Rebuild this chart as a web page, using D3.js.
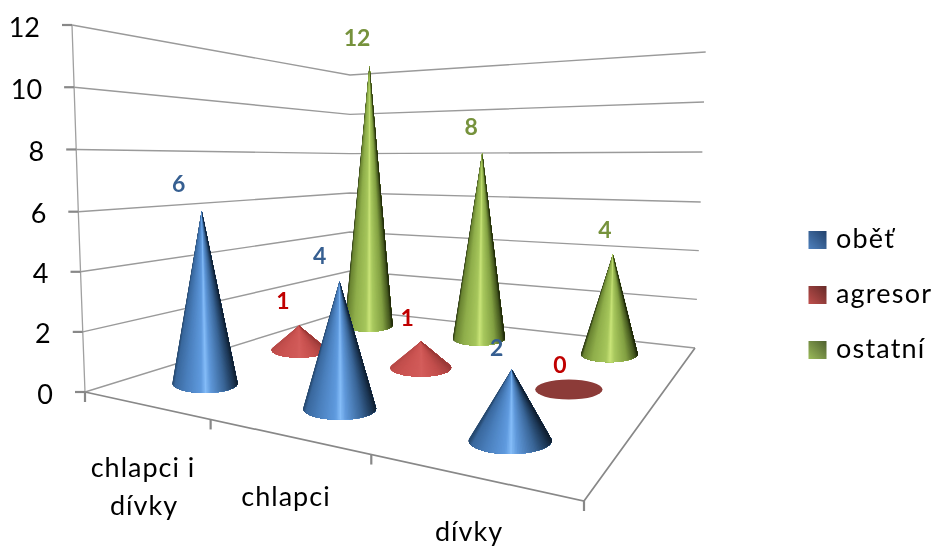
<!DOCTYPE html>
<html>
<head>
    <meta charset="utf-8">
    <script src="https://cdn.jsdelivr.net/npm/d3@7"></script>
    <title></title>
    <style>
        body { margin: 0; background: #fff; }
        text { font-family: Lato, "Open Sans", sans-serif; }
        svg { filter: blur(0.4px); }
    </style>
</head>
<body>
    <div id="chart"></div>
    <script>
        // data
        var categories = ['chlapci i dívky', 'chlapci', 'dívky'];
        var seriesNames = ['oběť', 'agresor', 'ostatní'];
        var obet = [6, 4, 2];
        var agresor = [1, 1, 0];
        var ostatni = [12, 8, 4];
        var yTicks = [0, 2, 4, 6, 8, 10, 12];
        var allSeries = [obet, agresor, ostatni];

        var width = 936;
        var height = 548;
        var yMax = 12;

        // the box of the 3d chart as it sits on screen
        var floorFrontLeft = [85, 392];
        var floorFrontRight = [584, 501];
        var floorBackRight = [695, 348];
        var floorBackLeft = [350, 310];
        var topLeft = [72, 25];
        var topCorner = [350, 75];
        var topRight = [705.7, 52];
        var midLeft = [78.3, 211.7];
        var midCorner = [350, 193];
        var midRight = [700.7, 202];

        // unit square of the floor -> screen
        var H = (function() {
            var p0 = floorFrontLeft, p1 = floorFrontRight, p2 = floorBackRight, p3 = floorBackLeft;
            var dx1 = p1[0] - p2[0], dx2 = p3[0] - p2[0], sx = p0[0] - p1[0] + p2[0] - p3[0];
            var dy1 = p1[1] - p2[1], dy2 = p3[1] - p2[1], sy = p0[1] - p1[1] + p2[1] - p3[1];
            var det = dx1 * dy2 - dx2 * dy1;
            var g = (sx * dy2 - dx2 * sy) / det;
            var h = (dx1 * sy - sx * dy1) / det;
            return {
                a: p1[0] - p0[0] + g * p1[0], b: p3[0] - p0[0] + h * p3[0], c: p0[0],
                d: p1[1] - p0[1] + g * p1[1], e: p3[1] - p0[1] + h * p3[1], f: p0[1],
                g: g, h: h
            };
        })();

        // homogeneous direction of the value axis, from the two left-hand top corners
        var w1 = 1 + H.h;
        var y1 = H.e + H.f;
        var vz3 = (y1 - H.f + topLeft[1] - topCorner[1] * w1) / (topCorner[1] - topLeft[1]);
        var vz2 = topLeft[1] * (1 + vz3) - H.f;
        var vz1 = topLeft[0] * (1 + vz3) - H.c;

        function project(u, v, value) {
            var t = value / yMax;
            var w = H.g * u + H.h * v + 1 + vz3 * t;
            return [
                (H.a * u + H.b * v + H.c + vz1 * t) / w,
                (H.d * u + H.e * v + H.f + vz2 * t) / w
            ];
        }

        function edgeScales(bottom, mid, top) {
            var domain = [0, yMax / 2, yMax];
            return {
                x: d3.scaleLinear().domain(domain).range([bottom[0], mid[0], top[0]]),
                y: d3.scaleLinear().domain(domain).range([bottom[1], mid[1], top[1]])
            };
        }
        var leftEdge = edgeScales(floorFrontLeft, midLeft, topLeft);
        var cornerEdge = edgeScales(floorBackLeft, midCorner, topCorner);
        var rightEdge = edgeScales(floorBackRight, midRight, topRight);

        var uScale = d3.scaleBand().domain(d3.range(categories.length)).range([0, 1]);
        var vScale = d3.scaleBand().domain(d3.range(seriesNames.length)).range([0, 1]);

        // shading across each cone, -1 left edge, 1 right edge
        var shadeDomain = [-1, -0.93, -0.6, -0.12, 0.02, 0.18, 0.6, 0.9, 1];
        var shades = [
            ['#27496f', '#3a689d', '#4a7fbc', '#5f9ade', '#84bcf8', '#5f98da', '#3a6698', '#1c3654', '#122234'],
            ['#b84a48', '#c24e4c', '#cb5452', '#d05a58', '#d45e5c', '#cf5856', '#c24e4c', '#ac4442', '#9c3c3a'],
            ['#2e3b14', '#6a8432', '#8fae4b', '#a6c65c', '#c9e478', '#a8c85e', '#83a143', '#46591f', '#1f280b']
        ];
        var flatColor = '#8c3b38';
        var labelColors = ['#365f91', '#c00000', '#76923c'];
        var legendFrom = ['#4f81bd', '#c0504d', '#9bbb59'];
        var legendTo = ['#22426c', '#662a28', '#4f6030'];

        // label offset from the tip of each cone, series by category
        var labelDx = [[-23, -20, -15], [-16, -14, -9], [-12.5, -11, -8]];
        var labelDy = [[-19, -17.5, -13.5], [-17, -15, -16.5], [-19.5, -18, -16.5]];

        var radiusShare = 0.092;

        var svg = d3.select('#chart').append('svg')
            .attr('width', width)
            .attr('height', height)
            .style('display', 'block');

        var defs = svg.append('defs');
        seriesNames.forEach(function(name, i) {
            var grad = defs.append('linearGradient')
                .attr('id', 'swatch' + i)
                .attr('x1', 0).attr('y1', 1).attr('x2', 1).attr('y2', 0);
            grad.append('stop').attr('offset', '0%').attr('stop-color', legendFrom[i]);
            grad.append('stop').attr('offset', '100%').attr('stop-color', legendTo[i]);
        });

        // walls
        var wall = svg.append('g').attr('fill', 'none');
        var gridLine = d3.line();
        yTicks.forEach(function(d) {
            wall.append('path')
                .attr('d', gridLine([
                    [leftEdge.x(d), leftEdge.y(d)],
                    [cornerEdge.x(d), cornerEdge.y(d)],
                    [rightEdge.x(d), rightEdge.y(d)]
                ]))
                .attr('stroke', '#9a9a9a')
                .attr('stroke-width', 1.4);
        });

        // axis lines and ticks
        var axis = svg.append('g').attr('fill', 'none').attr('stroke', '#888');
        axis.append('path')
            .attr('d', gridLine([topLeft, midLeft, floorFrontLeft]))
            .attr('stroke', '#a0a0a0')
            .attr('stroke-width', 1.3);
        axis.append('path')
            .attr('d', gridLine([floorFrontLeft, floorFrontRight, floorBackRight]))
            .attr('stroke-width', 1.7);
        yTicks.forEach(function(d) {
            var x = leftEdge.x(d);
            var y = leftEdge.y(d);
            axis.append('line')
                .attr('x1', x - 10).attr('x2', x)
                .attr('y1', y).attr('y2', y)
                .attr('stroke-width', 2.2);
            svg.append('text')
                .attr('x', x - 32)
                .attr('y', y + 11.5)
                .attr('text-anchor', 'end')
                .attr('font-size', 27)
                .attr('fill', '#000')
                .text(d);
        });
        d3.range(categories.length + 1).forEach(function(i) {
            var p = project(i / categories.length, 0, 0);
            axis.append('line')
                .attr('x1', p[0]).attr('x2', p[0])
                .attr('y1', p[1]).attr('y2', p[1] + 10)
                .attr('stroke-width', 2.2);
        });

        // cones, back row first
        var cones = svg.append('g');
        var labels = svg.append('g')
            .attr('font-size', 23)
            .attr('font-weight', 'bold')
            .attr('text-anchor', 'middle');

        d3.range(seriesNames.length).reverse().forEach(function(s) {
            var color = d3.scaleLinear().domain(shadeDomain).range(shades[s]);
            allSeries[s].forEach(function(value, c) {
                var u = uScale(c) + uScale.bandwidth() / 2;
                var v = vScale(s) + vScale.bandwidth() / 2;
                var base = project(u, v, 0);
                var tip = project(u, v, value);
                var full = base[1] - project(u, v, yMax)[1];
                var rx = radiusShare * full;
                var ry = rx * (0.2 + 0.00027 * full);

                if (value === 0) {
                    cones.append('ellipse')
                        .attr('cx', base[0]).attr('cy', base[1])
                        .attr('rx', rx).attr('ry', ry)
                        .attr('fill', flatColor);
                } else {
                    var rise = base[1] - tip[1];
                    var start = Math.asin(Math.min(0.9, ry / rise));
                    var steps = 80;
                    var angle = d3.scaleLinear().domain([0, steps]).range([Math.PI + start, -start]);
                    var rim = d3.range(steps + 1).map(function(k) {
                        return [base[0] + rx * Math.cos(angle(k)), base[1] + ry * Math.sin(angle(k))];
                    });
                    // each wedge runs to the far edge and is painted over by the next, so no seams
                    d3.range(steps).forEach(function(k) {
                        cones.append('path')
                            .attr('d', gridLine([tip].concat(rim.slice(k))) + 'Z')
                            .attr('fill', color(Math.cos(angle(k + 0.5))));
                    });
                }

                labels.append('text')
                    .attr('x', tip[0] + labelDx[s][c])
                    .attr('y', tip[1] + labelDy[s][c])
                    .attr('fill', labelColors[s])
                    .text(value);
            });
        });

        // category labels
        var catText = svg.append('g')
            .attr('font-size', 27)
            .attr('letter-spacing', 1)
            .attr('fill', '#000')
            .attr('text-anchor', 'middle');
        catText.append('text').attr('x', 143).attr('y', 477).text('chlapci i');
        catText.append('text').attr('x', 144).attr('y', 515).text('dívky');
        catText.append('text').attr('x', 286).attr('y', 506).text(categories[1]);
        catText.append('text').attr('x', 469).attr('y', 541).text(categories[2]);

        // legend
        var legend = svg.append('g');
        var legendY = d3.scalePoint().domain(seriesNames).range([231, 341]);
        seriesNames.forEach(function(name, i) {
            legend.append('rect')
                .attr('x', 808.5)
                .attr('y', legendY(name))
                .attr('width', 18)
                .attr('height', 18)
                .attr('fill', 'url(#swatch' + i + ')');
            legend.append('text')
                .attr('x', 836)
                .attr('y', legendY(name) + 16.5)
                .attr('font-size', 27)
                .attr('letter-spacing', 1.2)
                .attr('fill', '#000')
                .text(name);
        });
    </script>
</body>
</html>
